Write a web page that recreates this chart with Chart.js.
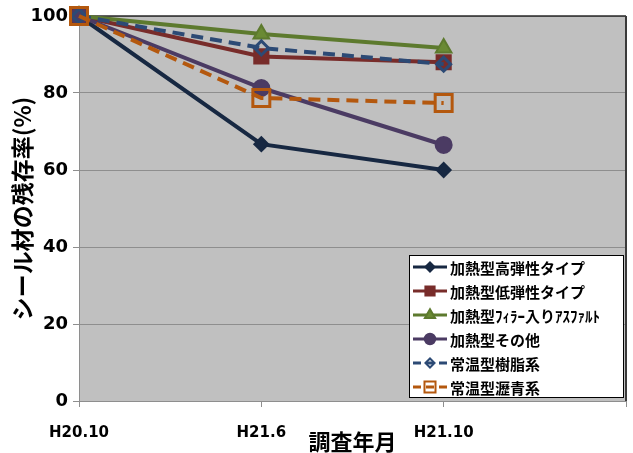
<!DOCTYPE html>
<html>
<head>
<meta charset="utf-8">
<script src="https://cdn.jsdelivr.net/npm/chart.js@4/dist/chart.umd.min.js"></script>
<style>
  html, body { margin: 0; padding: 0; background: #ffffff; }
  #wrap { width: 633px; height: 453px; }
</style>
</head>
<body>
<div id="wrap"><canvas id="c" width="633" height="453"></canvas></div>
<script>
// Survey periods (category axis) and the residual ratio (%) of each sealant type
const periods = ['H20.10', 'H21.6', 'H21.10'];
const seriesNames = [
  '加熱型高弾性タイプ',
  '加熱型低弾性タイプ',
  '加熱型ﾌｨﾗｰ入りｱｽﾌｧﾙﾄ',
  '加熱型その他',
  '常温型樹脂系',
  '常温型瀝青系'
];
const highElastic   = [100, 66.7, 60.0];
const lowElastic    = [100, 89.5, 88.0];
const fillerAsphalt = [100, 95.3, 91.7];
const otherHot      = [100, 81.3, 66.5];
const resinCold     = [100, 91.7, 87.5];
const bitumenCold   = [100, 78.7, 77.4];
const yTicks = [0, 20, 40, 60, 80, 100];

const seriesValues = [highElastic, lowElastic, fillerAsphalt, otherHot, resinCold, bitumenCold];

const styles = [
  { color: '#172842', fill: '#172842', point: 'rectRot',  radius: 7,  bw: 2, dash: [] },
  { color: '#782C2A', fill: '#782C2A', point: 'rect',     radius: 10, bw: 2, dash: [] },
  { color: '#5D7A2E', fill: '#6A8A34', point: 'triangle', radius: 9,  bw: 2, dash: [] },
  { color: '#4B3B63', fill: '#4B3B63', point: 'circle',   radius: 8,  bw: 2, dash: [] },
  { color: '#2C4A75', fill: 'rgba(0,0,0,0)', point: 'rectRot', radius: 7, bw: 3, dash: [12, 7] },
  { color: '#B4580E', fill: 'rgba(0,0,0,0)', point: 'rect',    radius: 12, bw: 3, dash: [12, 7] }
];

const datasets = seriesNames.map((name, i) => ({
  label: name,
  data: seriesValues[i],
  borderColor: styles[i].color,
  backgroundColor: styles[i].fill,
  borderWidth: 4,
  borderDash: styles[i].dash,
  pointStyle: styles[i].point,
  pointRadius: styles[i].radius,
  pointHoverRadius: styles[i].radius,
  pointBorderWidth: styles[i].bw,
  pointBorderColor: styles[i].color,
  pointBackgroundColor: styles[i].fill,
  tension: 0,
  clip: false,
  order: seriesNames.length - i   // later series drawn on top
}));

// Grey plot area with a dark top / right frame
const plotFrame = {
  id: 'plotFrame',
  beforeDraw(chart) {
    const { ctx, chartArea: a } = chart;
    ctx.save();
    ctx.fillStyle = '#C0C0C0';
    ctx.fillRect(a.left, a.top, a.right - a.left, a.bottom - a.top);
    ctx.restore();
  },
  beforeDatasetsDraw(chart) {
    const { ctx, chartArea: a } = chart;
    ctx.save();
    ctx.strokeStyle = '#2a2a2a';
    ctx.lineWidth = 1.5;
    ctx.beginPath();
    ctx.moveTo(a.left, a.top);
    ctx.lineTo(a.right, a.top);
    ctx.stroke();
    ctx.strokeStyle = '#3a3a3a';
    ctx.lineWidth = 2;
    ctx.beginPath();
    ctx.moveTo(a.right, a.top);
    ctx.lineTo(a.right, a.bottom);
    ctx.stroke();
    ctx.restore();
  }
};

// Boxed legend with line + marker samples
const boxLegend = {
  id: 'boxLegend',
  afterDraw(chart) {
    const { ctx } = chart;
    const box = { x: 409.5, y: 255.5, w: 214, h: 142 };
    ctx.save();
    ctx.fillStyle = '#ffffff';
    ctx.fillRect(box.x, box.y, box.w, box.h);
    ctx.strokeStyle = '#000000';
    ctx.lineWidth = 1;
    ctx.strokeRect(box.x, box.y, box.w, box.h);
    chart.data.datasets.forEach((ds, i) => {
      const y = 267 + i * 24;
      ctx.save();
      ctx.strokeStyle = ds.borderColor;
      ctx.lineWidth = 3;
      if (ds.borderDash && ds.borderDash.length) ctx.setLineDash([8, 5]);
      ctx.beginPath();
      ctx.moveTo(413, y);
      ctx.lineTo(447, y);
      ctx.stroke();
      ctx.restore();
      ctx.save();
      ctx.strokeStyle = ds.pointBorderColor;
      ctx.fillStyle = ds.pointBackgroundColor;
      ctx.lineWidth = 2;
      Chart.helpers.drawPoint(ctx, {
        pointStyle: ds.pointStyle,
        radius: Math.max(4.5, ds.pointRadius * 0.65),
        rotation: 0,
        borderWidth: 2
      }, 430, y);
      ctx.restore();
      ctx.fillStyle = '#000000';
      ctx.font = 'bold 15px "Noto Sans CJK JP"';
      ctx.textBaseline = 'middle';
      ctx.textAlign = 'left';
      ctx.fillText(ds.label, 450, y + 1);
    });
    ctx.restore();
  }
};

new Chart(document.getElementById('c'), {
  type: 'line',
  data: {
    labels: [...periods, ''],
    datasets
  },
  options: {
    responsive: false,
    devicePixelRatio: 1,
    animation: false,
    layout: { autoPadding: false, padding: { top: 16, right: 7, left: 0, bottom: 0 } },
    plugins: {
      legend: { display: false },
      tooltip: { enabled: false }
    },
    scales: {
      x: {
        type: 'category',
        offset: false,
        grid: { drawOnChartArea: false, drawTicks: true, tickLength: 6, color: '#8E8E8E' },
        border: { color: '#8E8E8E', width: 1 },
        ticks: {
          padding: 0,
          autoSkip: false,
          maxRotation: 0,
          color: '#000000',
          font: { family: '"DejaVu Sans"', weight: 'bold', size: 15, lineHeight: 3.5 }
        },
        title: {
          display: true,
          text: '調査年月',
          color: '#000000',
          font: { family: '"Noto Sans CJK JP"', weight: 'bold', size: 22, lineHeight: 1 },
          padding: { top: 0, bottom: 0 }
        },
        afterFit(scale) {
          scale.height = 52;
        }
      },
      y: {
        min: 0,
        max: 100,
        afterBuildTicks(scale) { scale.ticks = yTicks.map(v => ({ value: v })); },
        grid: { color: '#8E8E8E', lineWidth: 1, tickLength: 6 },
        border: { color: '#8E8E8E', width: 1 },
        ticks: {
          padding: 5,
          color: '#000000',
          font: { family: '"DejaVu Sans"', weight: 'bold', size: 18 }
        },
        title: {
          display: true,
          text: 'シール材の残存率(%)',
          color: '#000000',
          font: { family: '"Noto Sans CJK JP"', weight: 'bold', size: 23, lineHeight: 1 },
          padding: { top: 11, bottom: 0 }
        },
        afterFit(scale) { scale.width = 79; }
      }
    }
  },
  plugins: [plotFrame, boxLegend]
});
</script>
</body>
</html>
